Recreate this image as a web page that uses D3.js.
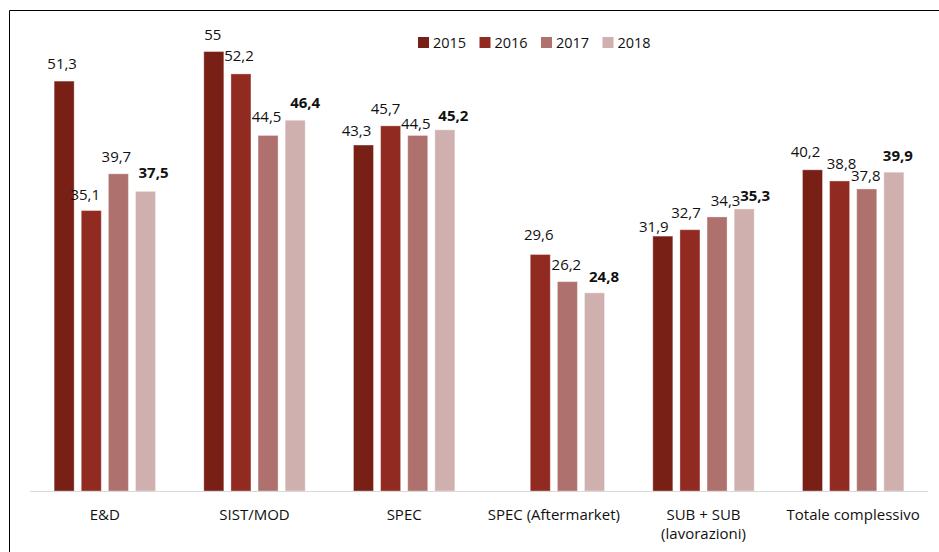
<!DOCTYPE html>
<html>
<head>
<meta charset="utf-8">
<script src="https://cdn.jsdelivr.net/npm/d3@7"></script>
<style>
  html, body { margin: 0; padding: 0; background: #fff; }
  svg { display: block; font-family: "Open Sans", "Noto Sans", sans-serif; }
</style>
</head>
<body>
<div id="viz"></div>
<script>
// data
const categories = ['E&D', 'SIST/MOD', 'SPEC', 'SPEC (Aftermarket)', 'SUB + SUB\n(lavorazioni)', 'Totale complessivo'];
const years = ['2015', '2016', '2017', '2018'];
const values2015 = [51.3, 55, 43.3, null, 31.9, 40.2];
const values2016 = [35.1, 52.2, 45.7, 29.6, 32.7, 38.8];
const values2017 = [39.7, 44.5, 44.5, 26.2, 34.3, 37.8];
const values2018 = [37.5, 46.4, 45.2, 24.8, 35.3, 39.9];
const series = [values2015, values2016, values2017, values2018];

const COLORS = ['#781f16', '#912a20', '#ae716d', '#d0b0ae'];
const WIDTH = 939;
const HEIGHT = 552;
const PLOT = { left: 30, right: 928, top: 11.6, bottom: 491 };
const FONT_SIZE = 15;

// label nudges [dx, dy] from bar centre / bar top (Excel-style manual placement)
const LABEL_NUDGE = [
  [[-2, -12], [-6, -11], [-2, -12], [8, -13]],
  [[-1, -12], [-2, -12.5], [-1.5, -13.5], [10, -12]],
  [[-7, -9], [-5, -11.7], [-2, -6.4], [8.5, -9]],
  [null, [-1.5, -14], [-1, -12], [9.5, -11]],
  [[-9, -4], [-4, -12], [8.5, -10.7], [11, -8]],
  [[-7, -12.7], [2, -12], [-1, -7.6], [4, -11.6]]
];

const fmt = v => String(v).replace('.', ',');

const svg = d3.select('#viz').append('svg')
  .attr('width', WIDTH)
  .attr('height', HEIGHT);

// frame (only top/left edges fall inside the picture)
svg.append('path')
  .attr('d', `M9.5,${HEIGHT} V10.5 H${WIDTH}`)
  .attr('fill', 'none')
  .attr('stroke', '#000')
  .attr('stroke-width', 1);

const x0 = d3.scaleBand()
  .domain(categories)
  .range([PLOT.left, PLOT.right]);

const x1 = d3.scaleBand()
  .domain(years)
  .range([0, x0.bandwidth()])
  .paddingInner(0.262)
  .paddingOuter(0.89);

const y = d3.scaleLinear()
  .domain([0, 60])
  .range([PLOT.bottom, PLOT.top]);

// bars
const rows = [];
categories.forEach((c, ci) => {
  years.forEach((yr, yi) => {
    const v = series[yi][ci];
    if (v !== null) rows.push({ c, ci, yr, yi, v });
  });
});

svg.append('g').attr('class', 'bars')
  .selectAll('rect')
  .data(rows)
  .join('rect')
  .attr('x', d => x0(d.c) + x1(d.yr))
  .attr('y', d => y(d.v))
  .attr('width', x1.bandwidth())
  .attr('height', d => y(0) - y(d.v))
  .attr('fill', d => COLORS[d.yi])
  .attr('stroke', 'rgba(255,255,255,0.35)')
  .attr('stroke-width', 1);

// axis line
svg.append('line')
  .attr('x1', PLOT.left)
  .attr('x2', PLOT.right)
  .attr('y1', y(0) + 0.5)
  .attr('y2', y(0) + 0.5)
  .attr('stroke', '#d9d9d9')
  .attr('stroke-width', 1.2);

// value labels
svg.append('g').attr('class', 'labels')
  .selectAll('text')
  .data(rows)
  .join('text')
  .attr('x', d => x0(d.c) + x1(d.yr) + x1.bandwidth() / 2 + LABEL_NUDGE[d.ci][d.yi][0])
  .attr('y', d => y(d.v) + LABEL_NUDGE[d.ci][d.yi][1])
  .attr('text-anchor', 'middle')
  .attr('font-size', FONT_SIZE)
  .attr('font-weight', d => (d.yi === 3 ? 700 : 400))
  .attr('fill', '#111')
  .text(d => fmt(d.v));

// category labels
const cat = svg.append('g').attr('class', 'categories')
  .selectAll('text')
  .data(categories)
  .join('text')
  .attr('x', d => x0(d) + x0.bandwidth() / 2)
  .attr('y', 520)
  .attr('text-anchor', 'middle')
  .attr('font-size', FONT_SIZE)
  .attr('fill', '#111');
cat.selectAll('tspan')
  .data(d => d.split('\n'))
  .join('tspan')
  .attr('x', function () { return d3.select(this.parentNode).attr('x'); })
  .attr('dy', (d, i) => (i === 0 ? 0 : 19))
  .text(d => d);

// legend
const legend = svg.append('g').attr('class', 'legend')
  .attr('transform', 'translate(418, 37)');
const item = legend.selectAll('g')
  .data(years)
  .join('g')
  .attr('transform', (d, i) => `translate(${i * 61.5}, 0)`);
item.append('rect')
  .attr('width', 11)
  .attr('height', 11)
  .attr('fill', (d, i) => COLORS[i]);
item.append('text')
  .attr('x', 15)
  .attr('y', 10.5)
  .attr('font-size', 14.5)
  .attr('fill', '#111')
  .text(d => d);
</script>
</body>
</html>
